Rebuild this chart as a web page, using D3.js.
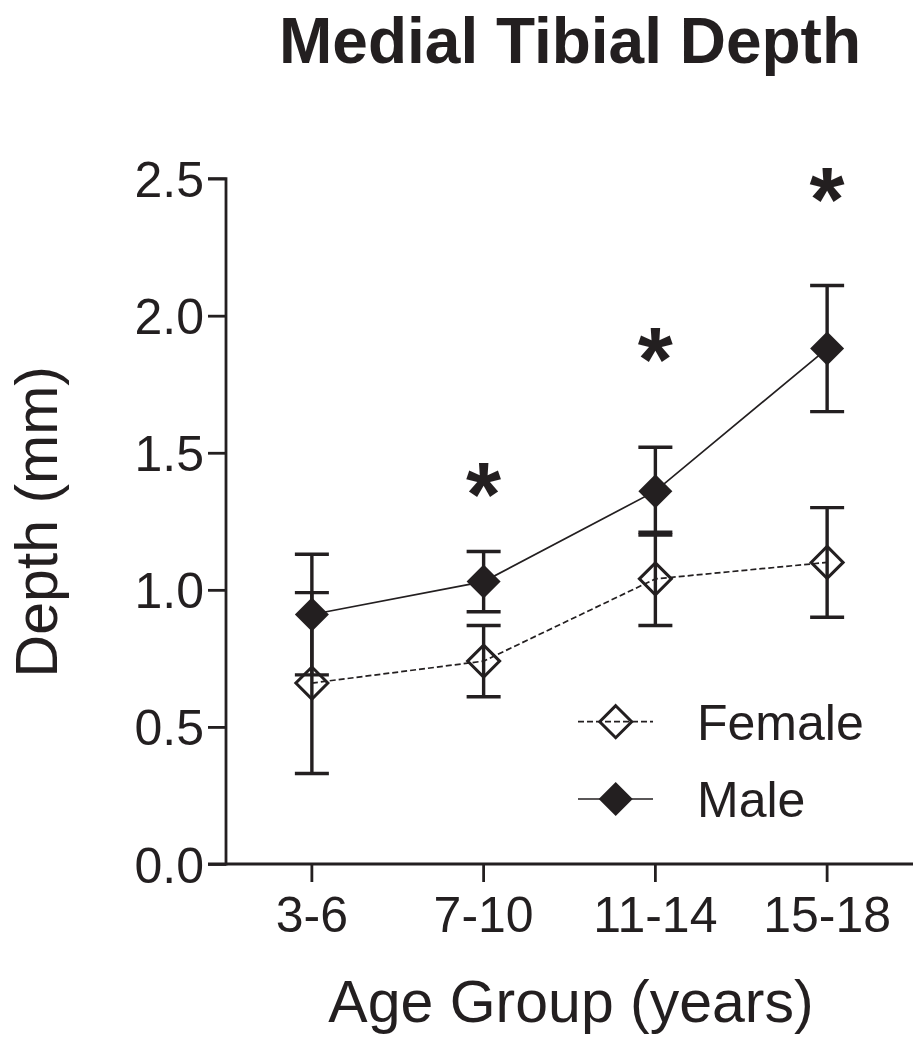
<!DOCTYPE html>
<html>
<head>
<meta charset="utf-8">
<script src="https://cdn.jsdelivr.net/npm/d3@7"></script>
<style>
  html, body { margin: 0; padding: 0; background: #ffffff; }
  svg { display: block; }
  text { font-family: "Liberation Sans", Arial, Helvetica, sans-serif; fill: #231f20; }
</style>
</head>
<body>
<script>
// ---- data ----
const categories = ["3-6", "7-10", "11-14", "15-18"];
const femaleMean = [0.66, 0.74, 1.04, 1.10];
const femaleErr  = [0.33, 0.13, 0.17, 0.20];
const maleMean   = [0.91, 1.03, 1.36, 1.88];
const maleErr    = [0.22, 0.11, 0.16, 0.23];
const sigMarks   = ["", "*", "*", "*"];
const sigLevel   = [null, 1.385, 1.875, 2.46];
const yTicks     = [0.0, 0.5, 1.0, 1.5, 2.0, 2.5];
const seriesNames = ["Female", "Male"];
const titleText = "Medial Tibial Depth";
const xTitle = "Age Group (years)";
const yTitle = "Depth (mm)";

// ---- layout ----
const W = 922, H = 1050;
const ink = "#231f20";
const plotL = 226, plotR = 913, plotT = 178.6, plotB = 864;

const svg = d3.select("body").append("svg").attr("width", W).attr("height", H);

const x = d3.scaleBand().domain(categories).range([plotL, plotR]).padding(0);
const cx = c => x(c) + x.bandwidth() / 2;
const y = d3.scaleLinear().domain([0, 2.5]).range([plotB, plotT]);

// axes
const yAxis = d3.axisLeft(y).tickValues(yTicks).tickFormat(d3.format(".1f")).tickSize(18).tickPadding(4);
const gy = svg.append("g").attr("transform", `translate(${plotL},0)`).call(yAxis);
gy.select(".domain").attr("stroke", ink).attr("stroke-width", 2.8).attr("d", `M-18,${plotT}H0V${plotB}H-18`);
gy.selectAll(".tick line").attr("stroke", ink).attr("stroke-width", 2.8);
gy.selectAll(".tick text").attr("font-size", 50).attr("fill", ink).attr("dy", "0.36em")
  .style("font-family", '"Liberation Sans", Arial, sans-serif');

const xAxis = d3.axisBottom(x).tickSize(18).tickPadding(14);
const gx = svg.append("g").attr("transform", `translate(0,${plotB})`).call(xAxis);
gx.select(".domain").attr("stroke", ink).attr("stroke-width", 2.8).attr("d", `M${plotL},0H${plotR}`);
gx.selectAll(".tick line").attr("stroke", ink).attr("stroke-width", 2.8);
gx.selectAll(".tick text").attr("font-size", 50).attr("fill", ink).attr("dy", "0.72em")
  .style("font-family", '"Liberation Sans", Arial, sans-serif');

// build rows
const female = categories.map((c, i) => ({c, m: femaleMean[i], e: femaleErr[i]}));
const male   = categories.map((c, i) => ({c, m: maleMean[i], e: maleErr[i]}));

const line = d3.line().x(d => cx(d.c)).y(d => y(d.m));

// connecting lines
svg.append("path").datum(female).attr("d", line).attr("fill", "none")
  .attr("stroke", ink).attr("stroke-width", 1.7).attr("stroke-dasharray", "6,3");
svg.append("path").datum(male).attr("d", line).attr("fill", "none")
  .attr("stroke", ink).attr("stroke-width", 1.7);

// error bars
const capHalf = 17;
function errorBars(data) {
  const g = svg.append("g").attr("stroke", ink).attr("stroke-width", 3.4).attr("fill", "none");
  g.selectAll("path").data(data).join("path")
    .attr("d", d => {
      const X = cx(d.c), t = y(d.m + d.e), b = y(d.m - d.e);
      return `M${X},${t}V${b}M${X - capHalf},${t}H${X + capHalf}M${X - capHalf},${b}H${X + capHalf}`;
    });
}
errorBars(female);
errorBars(male);

// markers
const diamond = r => `M0,${-r}L${r},0L0,${r}L${-r},0Z`;
svg.append("g").selectAll("path").data(female).join("path")
  .attr("transform", d => `translate(${cx(d.c)},${y(d.m)})`)
  .attr("d", diamond(16)).attr("fill", "none").attr("stroke", ink).attr("stroke-width", 3);
svg.append("g").selectAll("path").data(male).join("path")
  .attr("transform", d => `translate(${cx(d.c)},${y(d.m)})`)
  .attr("d", diamond(17)).attr("fill", ink).attr("stroke", "none");

// significance asterisks
const starSize = 90;
svg.append("g").selectAll("text").data(categories.map((c, i) => ({c, s: sigMarks[i], v: sigLevel[i]})).filter(d => d.s))
  .join("text")
  .attr("x", d => cx(d.c)).attr("y", d => y(d.v) + 0.46 * starSize)
  .attr("text-anchor", "middle").attr("font-size", starSize).attr("font-weight", "bold")
  .text(d => d.s);

// legend
const legX1 = 578, legX2 = 653, legMid = 615.7, legTextX = 697;
const legY = [721.7, 799];
const lg = svg.append("g");
lg.append("line").attr("x1", legX1).attr("x2", legX2).attr("y1", legY[0]).attr("y2", legY[0])
  .attr("stroke", ink).attr("stroke-width", 1.7).attr("stroke-dasharray", "6,3");
lg.append("path").attr("transform", `translate(${legMid},${legY[0]})`).attr("d", diamond(16))
  .attr("fill", "none").attr("stroke", ink).attr("stroke-width", 3);
lg.append("text").attr("x", legTextX).attr("y", legY[0]).attr("dy", "0.36em").attr("font-size", 50).text(seriesNames[0]);
lg.append("line").attr("x1", legX1).attr("x2", legX2).attr("y1", legY[1]).attr("y2", legY[1])
  .attr("stroke", ink).attr("stroke-width", 1.7);
lg.append("path").attr("transform", `translate(${legMid},${legY[1]})`).attr("d", diamond(17)).attr("fill", ink);
lg.append("text").attr("x", legTextX).attr("y", legY[1]).attr("dy", "0.36em").attr("font-size", 50).text(seriesNames[1]);

// titles
svg.append("text").attr("x", 570).attr("y", 63).attr("text-anchor", "middle")
  .attr("font-size", 64).attr("font-weight", "bold").text(titleText);
svg.append("text").attr("x", 571).attr("y", 1022).attr("text-anchor", "middle")
  .attr("font-size", 59).text(xTitle);
svg.append("text").attr("transform", `translate(57,521.7) rotate(-90)`).attr("text-anchor", "middle")
  .attr("font-size", 59).text(yTitle);
</script>
</body>
</html>
